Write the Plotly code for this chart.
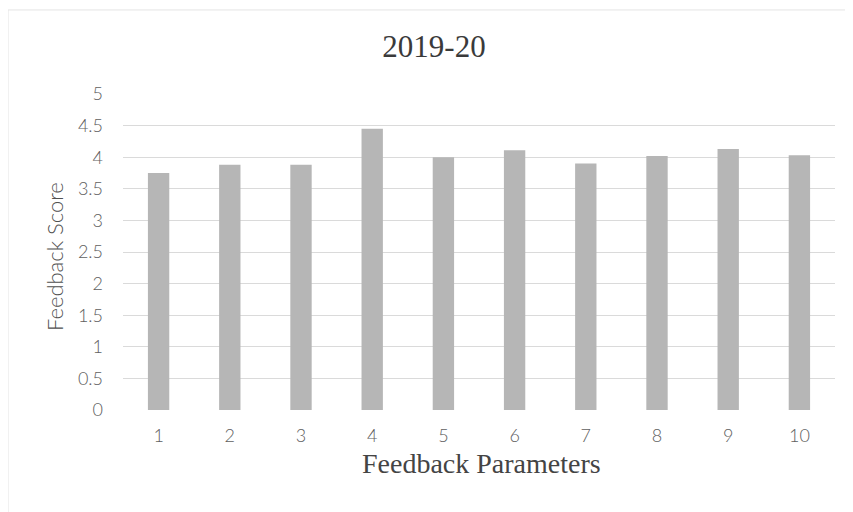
import plotly.graph_objects as go

categories = ["1", "2", "3", "4", "5", "6", "7", "8", "9", "10"]
scores = [3.75, 3.88, 3.88, 4.45, 4.0, 4.11, 3.9, 4.02, 4.13, 4.03]
y_ticks = [0, 0.5, 1, 1.5, 2, 2.5, 3, 3.5, 4, 4.5, 5]
y_tick_labels = ["0", "0.5", "1", "1.5", "2", "2.5", "3", "3.5", "4", "4.5", "5"]

sans = "Lato"
serif = "Liberation Serif"

fig = go.Figure(go.Bar(
    x=categories, y=scores,
    marker=dict(color="#b6b6b6", line=dict(width=0)),
    width=0.3,
))

fig.update_layout(
    width=845, height=504,
    margin=dict(l=115, r=18, t=86, b=102),
    paper_bgcolor="white", plot_bgcolor="white",
    showlegend=False,
    title=dict(text="2019-20", x=426 / 845, xanchor="center", y=1 - 38 / 504, yanchor="middle",
               font=dict(family=serif, size=31, color="#3a3a3a")),
    xaxis=dict(
        type="category", showgrid=False, zeroline=False, showline=False, ticks="",
        ticklabelstandoff=13,
        tickfont=dict(family=sans, size=18, color="#606060", weight=300),
    ),
    yaxis=dict(
        range=[0, 5], tickvals=y_ticks, ticktext=y_tick_labels,
        showgrid=True, gridcolor="#dadada", gridwidth=1, zeroline=False, showline=False,
        ticks="", ticklabelstandoff=19,
        tickfont=dict(family=sans, size=18, color="#606060", weight=300),
    ),
    annotations=[
        dict(text="Feedback Parameters", xref="paper", yref="paper", x=0.503, y=-0.168,
             xanchor="center", yanchor="middle", showarrow=False,
             font=dict(family=serif, size=28, color="#444444")),
        dict(text="Feedback Score", xref="paper", yref="paper", x=-0.0969, y=0.484,
             xanchor="center", yanchor="middle", textangle=-90, showarrow=False,
             font=dict(family=sans, size=22, color="#505050", weight=300)),
    ],
    shapes=[
        dict(type="line", xref="paper", yref="paper", x0=-0.1615, x1=-0.1615, y0=-0.323, y1=1.266,
             line=dict(color="#e4e4e4", width=1), layer="below"),
        dict(type="line", xref="paper", yref="paper", x0=-0.1615, x1=1.025, y0=1.266, y1=1.266,
             line=dict(color="#e4e4e4", width=1), layer="below"),
    ],
)

fig.write_html("out.html")
